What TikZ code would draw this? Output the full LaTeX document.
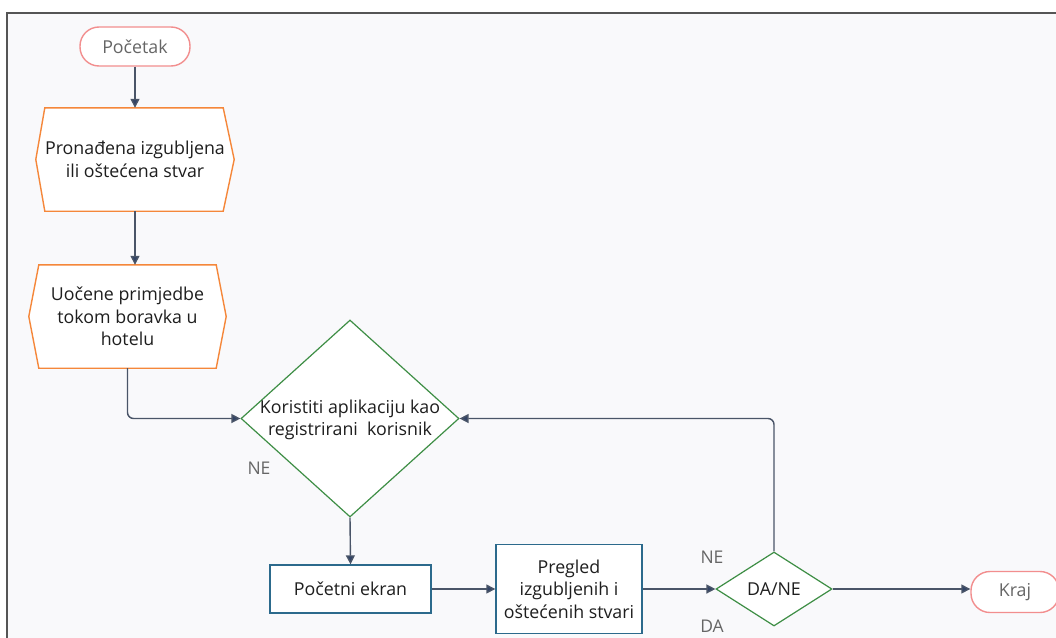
\documentclass[tikz,border=0pt]{standalone}
\usepackage{fontspec}
\setmainfont{Open Sans}
\usetikzlibrary{shapes.geometric,arrows.meta,calc}
\definecolor{bgc}{HTML}{F9F9FB}
\definecolor{framec}{HTML}{555555}
\definecolor{linec}{HTML}{4A5568}
\definecolor{arrc}{HTML}{334466}
\definecolor{pinkc}{HTML}{F28E8E}
\definecolor{orangec}{HTML}{F5873A}
\definecolor{greenc}{HTML}{3E8E45}
\definecolor{bluec}{HTML}{2C6A8C}
\definecolor{txtc}{HTML}{1E1E1E}
\definecolor{greyt}{HTML}{666666}
\tikzset{
  base/.style={font=\fontsize{17.8}{22.5}\selectfont, text=txtc, align=center, inner sep=0pt},
  term/.style={base, draw=pinkc, line width=1.4pt, fill=white, rounded corners=19pt, text=greyt},
  hexbox/.style={base, draw=none},
  hexline/.style={draw=orangec, line width=1.4pt, fill=white},
  decis/.style={base, diamond, draw=greenc, line width=1.2pt, fill=white},
  procbox/.style={base, draw=bluec, line width=1.4pt, fill=white},
  conn/.style={draw=linec, line width=1.4pt, rounded corners=6pt},
  arr/.style={conn, -{Triangle[length=9pt,width=9pt,fill=arrc]}},
  lbl/.style={font=\fontsize{17.5}{20}\selectfont, text=greyt, inner sep=0pt}
}
\begin{document}
\begin{tikzpicture}[x=1pt,y=-1pt]
\useasboundingbox (0,0) rectangle (1056,637);
\clip (0,0) rectangle (1056,637);
\fill[white] (0,0) rectangle (1056,637);
\fill[bgc] (7,13) rectangle (1060,640);
\draw[framec, line width=1.5pt] (7,640) -- (7,13) -- (1060,13);

% terminals
\node[term, minimum width=110pt, minimum height=39pt] (start) at (135,46.5) {Početak};
\node[term, minimum width=88pt, minimum height=41pt] (end) at (1015,592) {Kraj};

% hexagon 1
\node[hexbox, minimum width=198pt, minimum height=103pt] (h1) at (135,159.5) {};
\path[hexline] ($(h1.north west)+(9,0)$) -- ($(h1.north east)+(-11,0)$) -- (h1.east) -- ($(h1.south east)+(-11,0)$) -- ($(h1.south west)+(9,0)$) -- (h1.west) -- cycle;
\node[base] at (h1.center) {Pronađena izgubljena\\ili oštećena stvar};

% hexagon 2
\node[hexbox, minimum width=197pt, minimum height=103pt] (h2) at (127.5,316.5) {};
\path[hexline] ($(h2.north west)+(10,0)$) -- ($(h2.north east)+(-10,0)$) -- (h2.east) -- ($(h2.south east)+(-10,0)$) -- ($(h2.south west)+(10,0)$) -- (h2.west) -- cycle;
\node[base] at (h2.center) {Uočene primjedbe\\tokom boravka u\\hotelu};

% decision 1
\node[decis, minimum width=218pt, minimum height=197pt, aspect=1.1] (d1) at (350,418.5) {};
\node[base] at (350,420) {Koristiti aplikaciju kao\\registrirani\ \ korisnik};

% process boxes
\node[procbox, minimum width=161pt, minimum height=48pt] (p1) at (350.5,589) {Početni ekran};
\node[procbox, minimum width=146pt, minimum height=89pt] (p2) at (569,589) {Pregled\\izgubljenih i\\oštećenih stvari};

% decision 2
\node[decis, minimum width=116pt, minimum height=74pt, aspect=1.57] (d2) at (774,589) {DA/NE};

% labels
\node[lbl] (lne1) at (259,468) {NE};
\node[lbl] (lne2) at (712,557) {NE};
\node[lbl] (lda) at (712,626) {DA};

% connectors
\draw[arr] (start.south) -- (h1.north);
\draw[arr] (h1.south) -- (h1.south |- h2.north);
\draw[arr] (h2.south) |- (d1.west);
\draw[arr] (d1.south) -- (p1.north);
\draw[arr] (p1.east) -- (p2.west);
\draw[arr] (p2.east) -- (d2.west);
\draw[arr] (d2.east) -- (d2.east -| end.west);
\draw[arr] (d2.north) |- (d1.east);
\end{tikzpicture}
\end{document}
